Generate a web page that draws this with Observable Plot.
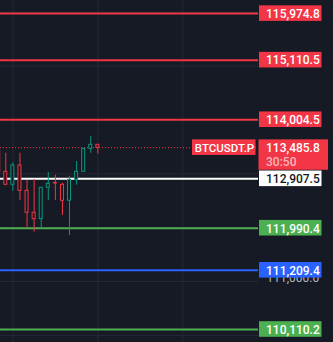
<!DOCTYPE html>
<html>
<head>
<meta charset="utf-8">
<script src="https://cdn.jsdelivr.net/npm/d3@7"></script>
<script src="https://cdn.jsdelivr.net/npm/@observablehq/plot@0.6"></script>
<style>
  html, body { margin: 0; padding: 0; background: #161a25; overflow: hidden; }
</style>
</head>
<body>
<div id="chart"></div>
<script>
// ---- data ----
const opens  = [113415, 113038, 112797, 113155, 112685, 112277, 112158, 112741, 112830, 112797, 112500, 112889, 113038, 113465, 113539];
const highs  = [113430, 113383, 113205, 113383, 112877, 112895, 112741, 113025, 112975, 112826, 112951, 113229, 113465, 113693, 113539];
const lows   = [113010, 112778, 112678, 112505, 111991, 111917, 111991, 112505, 112505, 112227, 111855, 112789, 113038, 113383, 113365];
const closes = [113025, 112797, 113155, 112685, 112277, 112158, 112741, 112815, 112821, 112500, 112889, 113038, 113465, 113539, 113485.8];

const levelValues = [115974.8, 115110.5, 114004.5, 112907.5, 111990.4, 111209.4, 110110.2];
const levelKinds  = ["red", "red", "red", "white", "green", "blue", "green"];

const currentPrice = 113485.8;
const symbolName = "BTCUSDT.P";
const countdown = "30:50";

const axisTicks = [110000, 111000, 112000, 113000, 114000, 115000, 116000];
const gridCandles = [2, 14, 26];

// ---- styles ----
const bg = "#161a25";
const candleUp = "#089981", candleDown = "#f23645";
const kindColor = {red: "#f23645", white: "#ffffff", green: "#4caf50", blue: "#2962ff"};
const kindText  = {red: "#ffffff", white: "#131722", green: "#ffffff", blue: "#ffffff"};

const W = 333, H = 342, plotRight = 258;
const xDomain = [0.2514, 36.69];
const yDomain = [109868.7, 116218];
const px2x = d3.scaleLinear([0, plotRight], xDomain);
const ppp = (yDomain[1] - yDomain[0]) / H; // price per pixel

const fmt = d3.format(",.1f");
const candles = opens.map((o, i) => ({i, o, h: highs[i], l: lows[i], c: closes[i], up: closes[i] >= o}));
const levels = levelValues.map((v, k) => ({v, label: fmt(v), color: kindColor[levelKinds[k]], text: kindText[levelKinds[k]]}));
const halfBody = 1.5 / (7.08);
const boxHalf = 7.8 * ppp;
// axis labels that are not hidden behind a level / price label
const visibleTicks = axisTicks.filter(t =>
  [...levelValues, currentPrice].every(v => Math.abs(v - t) / ppp > 9));

const chart = Plot.plot({
  width: W, height: H,
  marginLeft: 0, marginRight: W - plotRight, marginTop: 0, marginBottom: 0,
  style: {background: bg, fontFamily: "Roboto, 'Noto Sans', sans-serif", overflow: "hidden"},
  x: {domain: xDomain, axis: null},
  y: {domain: yDomain, axis: null},
  marks: [
    // grid
    Plot.ruleX(gridCandles, {x: d => d, stroke: "#252934", strokeWidth: 1}),
    Plot.ruleY(axisTicks, {y: d => d, stroke: "#252934", strokeWidth: 1}),
    // current price dotted line
    Plot.ruleY([currentPrice], {y: d => d, stroke: candleDown, strokeWidth: 1, strokeDasharray: "1,2"}),
    // level lines
    Plot.ruleY(levels, {y: "v", stroke: "color", strokeWidth: 2}),
    // wicks
    Plot.ruleX(candles, {x: "i", y1: "l", y2: "h", stroke: d => d.up ? candleUp : candleDown, strokeWidth: 1}),
    // hollow bodies
    Plot.rect(candles, {
      x1: d => d.i - halfBody, x2: d => d.i + halfBody,
      y1: "o", y2: "c",
      fill: bg, stroke: d => d.up ? candleUp : candleDown, strokeWidth: 1
    }),
    // price axis labels (partly hidden)
    Plot.text(visibleTicks, {x: () => px2x(266), y: d => d, text: d => fmt(d), textAnchor: "start", dy: -3, fill: "#b2b5be", fontSize: 12}),
    // level label boxes
    Plot.rect(levels, {x1: () => px2x(259), x2: () => px2x(321.5), y1: d => d.v - boxHalf, y2: d => d.v + boxHalf, fill: "color"}),
    Plot.text(levels, {x: () => px2x(265.5), y: "v", text: "label", textAnchor: "start", fill: "text", fontSize: 12, fontWeight: 500, dy: 0.5}),
    // current price box
    Plot.rect([currentPrice], {x1: () => px2x(258.5), x2: () => px2x(328), y1: d => d + 7.8 * ppp, y2: d => d - 22.6 * ppp, fill: candleDown}),
    Plot.text([currentPrice], {x: () => px2x(265.5), y: d => d, text: d => fmt(d), textAnchor: "start", fill: "#ffffff", fontSize: 12, fontWeight: 500, dy: 0.5}),
    Plot.text([currentPrice], {x: () => px2x(265.5), y: d => d, text: () => countdown, textAnchor: "start", fill: "#ffffff", fillOpacity: 0.65, fontSize: 12, fontWeight: 500, dy: 14}),
    // symbol box
    Plot.rect([currentPrice], {x1: () => px2x(192), x2: () => px2x(255.5), y1: d => d + 7.8 * ppp, y2: d => d - 7.8 * ppp, fill: candleDown}),
    Plot.text([currentPrice], {x: () => px2x(224), y: d => d, text: () => symbolName, textAnchor: "middle", fill: "#ffffff", fontSize: 11.5, fontWeight: 500, dy: 0.5})
  ]
});
document.getElementById("chart").appendChild(chart);
</script>
</body>
</html>
